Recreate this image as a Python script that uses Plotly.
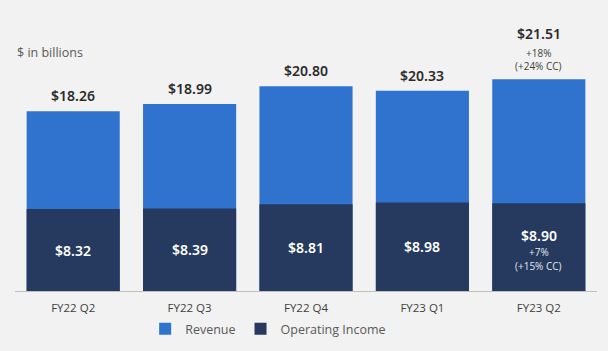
import plotly.graph_objects as go

categories = ["FY22 Q2", "FY22 Q3", "FY22 Q4", "FY23 Q1", "FY23 Q2"]
revenue = [18.26, 18.99, 20.80, 20.33, 21.51]
op_income = [8.32, 8.39, 8.81, 8.98, 8.90]
rev_growth = ["+18%", "(+24% CC)"]
oi_growth = ["+7%", "(+15% CC)"]

REV_C = "#3073CF"
OI_C = "#26395E"
FONT = "Open Sans"
VFONT = "Noto Sans"

fig = go.Figure()
fig.add_trace(go.Bar(x=categories, y=revenue, name="Revenue", marker_color=REV_C,
                     marker_line_width=0, hoverinfo="skip"))
fig.add_trace(go.Bar(x=categories, y=op_income, name="Operating Income", marker_color=OI_C,
                     marker_line_width=0, hoverinfo="skip"))

ann = []
last = len(categories) - 1
for i, (c, r, o) in enumerate(zip(categories, revenue, op_income)):
    top_shift = 4 if i != last else 34
    ann.append(dict(x=c, y=r, text=f"${r:.2f}", showarrow=False, yanchor="bottom",
                    yshift=top_shift, font=dict(family=VFONT, size=14, color="#2b2b2b", weight=600)))
    mid_shift = 0 if i != last else 12
    ann.append(dict(x=c, y=o / 2, text=f"${o:.2f}", showarrow=False, yanchor="middle",
                    yshift=mid_shift, font=dict(family=VFONT, size=14, color="white", weight=600)))
# growth sub-lines on last bar
for k, t in enumerate(rev_growth):
    ann.append(dict(x=categories[last], y=revenue[last], text=t, showarrow=False, yanchor="bottom",
                    yshift=17 - 13 * k, font=dict(family=FONT, size=10, color="#404040")))
for k, t in enumerate(oi_growth):
    ann.append(dict(x=categories[last], y=op_income[last] / 2, text=t, showarrow=False, yanchor="middle",
                    yshift=-5 - 14 * k, font=dict(family=FONT, size=10, color="#E3E7EF")))

ann.append(dict(x=0, xref="paper", xanchor="left", y=1.0, yref="paper", yanchor="middle",
                yshift=-17, text="$ in billions", showarrow=False,
                font=dict(family=FONT, size=12.5, color="#595959")))

fig.update_layout(
    width=608, height=351,
    margin=dict(l=15, r=11, t=35, b=60, autoexpand=False),
    paper_bgcolor="#F2F2F2", plot_bgcolor="#F2F2F2",
    barmode="overlay", bargap=0.2,
    showlegend=True,
    legend=dict(orientation="h", x=0.435, xanchor="center", xref="paper",
                y=22 / 351, yanchor="middle", yref="container",
                font=dict(family=FONT, size=12.5, color="#595959"), itemwidth=30,
                traceorder="normal", bgcolor="rgba(0,0,0,0)"),
    annotations=ann,
    font=dict(family=FONT),
)
fig.update_xaxes(showline=True, linecolor="#BFBFBF", linewidth=1, ticks="",
                 ticklabelstandoff=6,
                 tickfont=dict(family=FONT, size=11.5, color="#404040"), showgrid=False)
fig.update_yaxes(range=[0, 26], visible=False, showgrid=False, zeroline=False)

fig.write_html("out.html")
